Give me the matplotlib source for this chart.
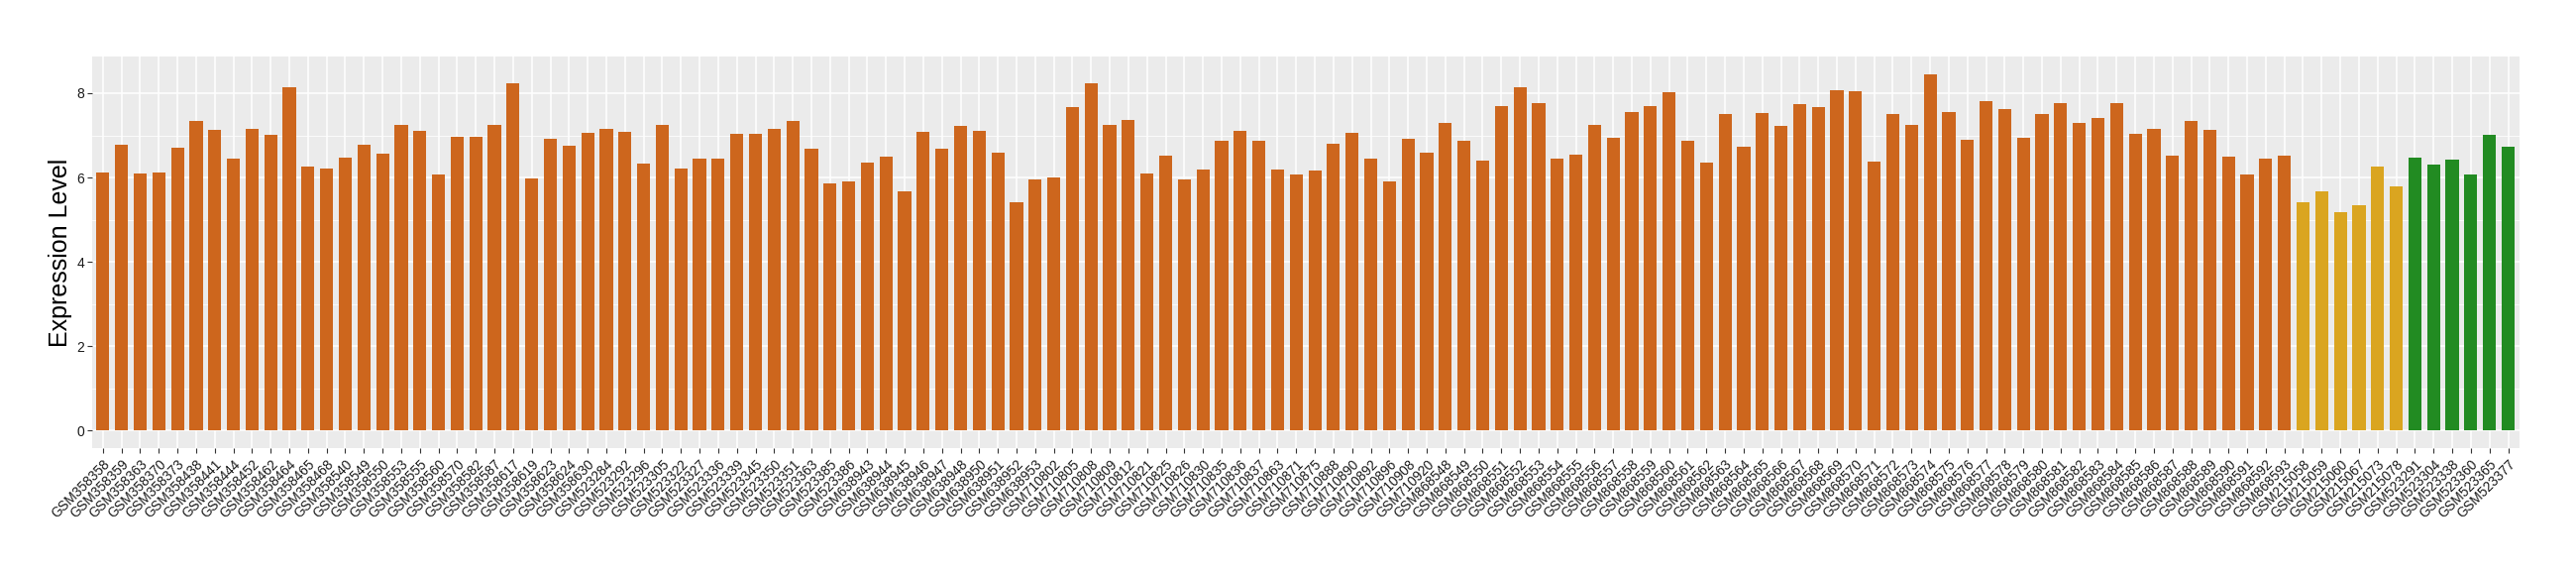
"""
Expression level per sample, three sample groups
"""
import matplotlib.pyplot as plt
import numpy as np

plt.rcParams['font.family'] = ['Liberation Sans', 'DejaVu Sans']

# Samples and values
orange_samples = [
    'GSM358358', 'GSM358359', 'GSM358363', 'GSM358370', 'GSM358373', 'GSM358438',
    'GSM358441', 'GSM358444', 'GSM358452', 'GSM358462', 'GSM358464', 'GSM358465',
    'GSM358468', 'GSM358540', 'GSM358549', 'GSM358550', 'GSM358553', 'GSM358555',
    'GSM358560', 'GSM358570', 'GSM358582', 'GSM358587', 'GSM358617', 'GSM358619',
    'GSM358623', 'GSM358624', 'GSM358630',
    'GSM523284', 'GSM523292', 'GSM523296', 'GSM523305', 'GSM523322', 'GSM523327',
    'GSM523336', 'GSM523339', 'GSM523345', 'GSM523350', 'GSM523351', 'GSM523363',
    'GSM523385', 'GSM523386',
    'GSM638943', 'GSM638944', 'GSM638945', 'GSM638946', 'GSM638947', 'GSM638948',
    'GSM638950', 'GSM638951', 'GSM638952', 'GSM638953',
    'GSM710802', 'GSM710805', 'GSM710808', 'GSM710809', 'GSM710812', 'GSM710821',
    'GSM710825', 'GSM710826', 'GSM710830', 'GSM710835', 'GSM710836', 'GSM710837',
    'GSM710863', 'GSM710871', 'GSM710875', 'GSM710888', 'GSM710890', 'GSM710892',
    'GSM710896', 'GSM710908', 'GSM710920',
    'GSM868548', 'GSM868549', 'GSM868550', 'GSM868551', 'GSM868552', 'GSM868553',
    'GSM868554', 'GSM868555', 'GSM868556', 'GSM868557', 'GSM868558', 'GSM868559',
    'GSM868560', 'GSM868561', 'GSM868562', 'GSM868563', 'GSM868564', 'GSM868565',
    'GSM868566', 'GSM868567', 'GSM868568', 'GSM868569', 'GSM868570', 'GSM868571',
    'GSM868572', 'GSM868573', 'GSM868574', 'GSM868575', 'GSM868576', 'GSM868577',
    'GSM868578', 'GSM868579', 'GSM868580', 'GSM868581', 'GSM868582', 'GSM868583',
    'GSM868584', 'GSM868585', 'GSM868586', 'GSM868587', 'GSM868588', 'GSM868589',
    'GSM868590', 'GSM868591', 'GSM868592', 'GSM868593',
]
orange_values = [
    6.13, 6.78, 6.10, 6.13, 6.71, 7.35, 7.14, 6.45, 7.16, 7.02,
    8.15, 6.27, 6.22, 6.48, 6.78, 6.57, 7.25, 7.11, 6.08, 6.97,
    6.97, 7.25, 8.24, 5.98, 6.93, 6.76, 7.07, 7.16, 7.09, 6.34,
    7.25, 6.22, 6.45, 6.45, 7.04, 7.04, 7.16, 7.33, 6.69, 5.87,
    5.91, 6.36, 6.50, 5.68, 7.09, 6.69, 7.23, 7.11, 6.60, 5.42,
    5.96, 6.01, 7.68, 8.24, 7.25, 7.37, 6.10, 6.53, 5.96, 6.20,
    6.88, 7.11, 6.88, 6.20, 6.08, 6.17, 6.81, 7.07, 6.45, 5.91,
    6.93, 6.60, 7.30, 6.88, 6.41, 7.70, 8.15, 7.77, 6.45, 6.55,
    7.25, 6.95, 7.56, 7.70, 8.03, 6.88, 6.36, 7.51, 6.74, 7.54,
    7.23, 7.73, 7.68, 8.08, 8.05, 6.38, 7.51, 7.25, 8.45, 7.56,
    6.90, 7.82, 7.63, 6.95, 7.51, 7.77, 7.30, 7.42, 7.77, 7.04,
    7.16, 6.53, 7.35, 7.14, 6.50, 6.08, 6.45, 6.53,
]
gold_samples = ['GSM215058', 'GSM215059', 'GSM215060', 'GSM215067', 'GSM215073', 'GSM215078']
gold_values = [5.42, 5.68, 5.18, 5.35, 6.27, 5.80]
green_samples = ['GSM523291', 'GSM523304', 'GSM523338', 'GSM523360', 'GSM523365', 'GSM523377']
green_values = [6.48, 6.31, 6.43, 6.08, 7.02, 6.74]

samples = orange_samples + gold_samples + green_samples
values = np.array(orange_values + gold_values + green_values)
colors = (['#CD661D'] * len(orange_samples) + ['#DAA520'] * len(gold_samples)
          + ['#228B22'] * len(green_samples))

fig = plt.figure(figsize=(26, 5.8), dpi=100)
ax = fig.add_axes([0.0356, 0.220, 0.978 - 0.0356, 0.902 - 0.220])

x = np.arange(len(samples))
ax.bar(x, values, width=0.7, color=colors, zorder=3)

# ggplot-like grey panel
ax.set_facecolor('#EBEBEB')
for s in ax.spines.values():
    s.set_visible(False)
ax.set_xlim(-0.6, len(samples) - 0.4)
pad = values.max() * 0.05
ax.set_ylim(-pad, values.max() + pad)
ax.set_yticks([0, 2, 4, 6, 8])
ax.set_yticks([1, 3, 5, 7], minor=True)
ax.grid(which='major', color='white', linewidth=1.1, zorder=0)
ax.grid(which='minor', axis='y', color='white', linewidth=0.55, zorder=0)
ax.set_axisbelow(True)

ax.set_xticks(x)
ax.set_xticklabels(samples, rotation=45, ha='right', va='top',
                   rotation_mode='anchor', fontsize=9.8, color='#1A1A1A')
ax.tick_params(axis='both', which='major', length=3.5, width=0.8,
               color='#333333', labelcolor='#1A1A1A', pad=2)
ax.tick_params(axis='y', labelsize=10)
ax.tick_params(axis='y', which='minor', length=0)
ax.tick_params(axis='x', pad=3)
ax.set_ylabel('Expression Level', fontsize=18, labelpad=3)

fig.savefig('out.png', dpi=100, facecolor='white')
